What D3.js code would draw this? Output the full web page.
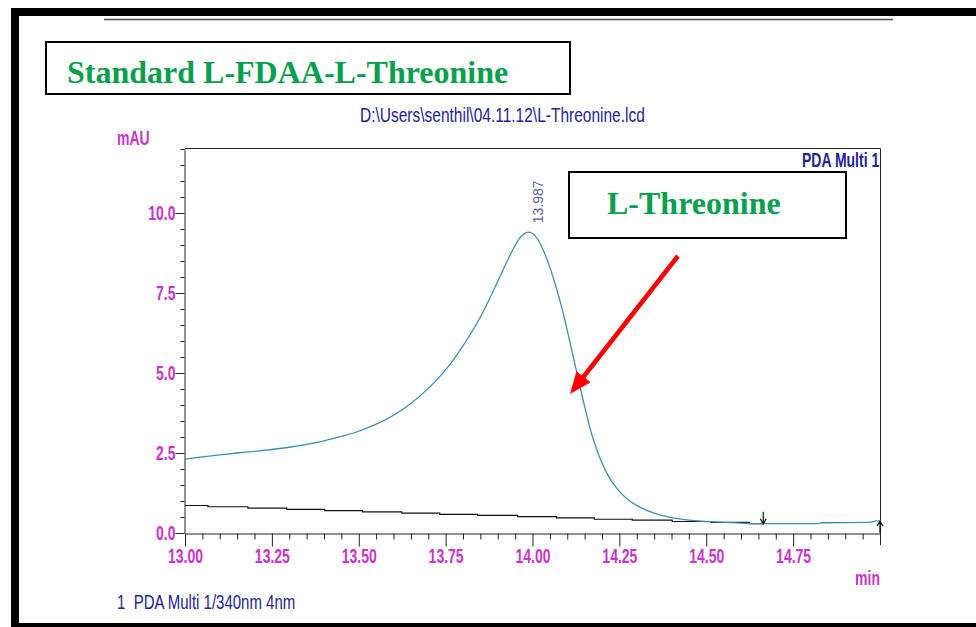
<!DOCTYPE html>
<html>
<head>
<meta charset="utf-8">
<script src="https://cdn.jsdelivr.net/npm/d3@7"></script>
<style>
  html, body { margin: 0; padding: 0; background: #ffffff; }
  svg { display: block; }
  text { white-space: pre; }
</style>
</head>
<body>
<svg id="chart" width="976" height="627"></svg>
<script>
// Chromatogram: PDA Multi 1 / 340 nm, retention window 13.0 - 15.0 min
const retentionTimes = [
  13.00, 13.05, 13.10, 13.15, 13.20, 13.25, 13.30, 13.35, 13.40, 13.45,
  13.50, 13.55, 13.60, 13.65, 13.70, 13.75, 13.80, 13.85, 13.88, 13.91,
  13.94, 13.96, 13.975, 13.987, 14.00, 14.015, 14.03, 14.05, 14.07, 14.09,
  14.11, 14.13, 14.15, 14.17, 14.19, 14.21, 14.23, 14.25, 14.28, 14.31,
  14.35, 14.40, 14.45, 14.50, 14.55, 14.60, 14.67, 14.75, 14.82, 14.83,
  14.97, 14.99, 15.00
];
const absorbance = [
  2.31, 2.38, 2.44, 2.50, 2.55, 2.61, 2.68, 2.77, 2.88, 3.02,
  3.18, 3.40, 3.68, 4.05, 4.52, 5.10, 5.85, 6.75, 7.40, 8.10,
  8.78, 9.17, 9.34, 9.40, 9.36, 9.18, 8.86, 8.30, 7.60, 6.80,
  5.85, 4.90, 3.95, 3.10, 2.45, 1.95, 1.58, 1.30, 1.00, 0.80,
  0.62, 0.48, 0.40, 0.36, 0.33, 0.31, 0.29, 0.29, 0.29, 0.32,
  0.33, 0.38, 0.37
];

// Integration baseline (drawn as the data system's stepped line)
const baselineTimes  = [13.000, 13.066, 13.181, 13.293, 13.402, 13.511, 13.624, 13.733, 13.842,
                        13.957, 14.069, 14.178, 14.287, 14.402, 14.514, 14.624, 14.664];
const baselineValues = [0.86, 0.82, 0.78, 0.74, 0.70, 0.66, 0.62, 0.58, 0.55,
                        0.51, 0.47, 0.43, 0.40, 0.36, 0.33, 0.29, 0.29];

// Peak annotation
const peakTime = 13.987;
const peakHeight = 9.40;
const peakLabel = "13.987";

// Integration start / end markers
const peakStart = { t: 14.664, v: 0.29 };
const peakEnd   = { t: 15.00,  v: 0.37 };

// Axis ticks
const xMajorTicks = [13.00, 13.25, 13.50, 13.75, 14.00, 14.25, 14.50, 14.75];
const xTickLabels = ["13.00", "13.25", "13.50", "13.75", "14.00", "14.25", "14.50", "14.75"];
const yMajorTicks = [0.0, 2.5, 5.0, 7.5, 10.0];
const yTickLabels = ["0.0", "2.5", "5.0", "7.5", "10.0"];

// Texts
const titleText = "Standard L-FDAA-L-Threonine";
const calloutText = "L-Threonine";
const fileText = "D:\\Users\\senthil\\04.11.12\\L-Threonine.lcd";
const channelText = "PDA Multi 1";
const legendText = "1  PDA Multi 1/340nm 4nm";
const yUnit = "mAU";
const xUnit = "min";

const MAGENTA = "#cc33cc";
const NAVY = "#23239a";
const GREEN = "#07a04c";
const TRACE = "#3a90b4";
const SANS = "'Liberation Sans', Arial, sans-serif";
const SERIF = "'Liberation Serif', 'Times New Roman', serif";

const svg = d3.select("#chart");
svg.append("rect").attr("width", 976).attr("height", 627).attr("fill", "#fff");

// Slide frame
svg.append("rect").attr("x", 11).attr("y", 8).attr("width", 965).attr("height", 8).attr("fill", "#000");
svg.append("rect").attr("x", 11).attr("y", 8).attr("width", 8).attr("height", 619).attr("fill", "#000");
svg.append("rect").attr("x", 11).attr("y", 623).attr("width", 965).attr("height", 4).attr("fill", "#000");
svg.append("line").attr("x1", 104).attr("x2", 893).attr("y1", 19.5).attr("y2", 19.5)
  .attr("stroke", "#4a4a4a").attr("stroke-width", 1.6);

// Plot geometry
const plot = { left: 185, right: 880, top: 149, bottom: 533 };
const x = d3.scaleLinear().domain([13.0, 15.0]).range([plot.left, plot.right]);
const y = d3.scaleLinear().domain([0, 12]).range([plot.bottom, plot.top]);

function label(parent, txt, px, py, opts) {
  const o = Object.assign({ size: 14, weight: "normal", color: "#000", anchor: "start", sx: 1, sy: 1.4, family: SANS }, opts || {});
  return parent.append("text")
    .attr("transform", `translate(${px},${py}) scale(${o.sx},${o.sy})`)
    .attr("font-family", o.family).attr("font-size", o.size).attr("font-weight", o.weight)
    .attr("fill", o.color).attr("text-anchor", o.anchor)
    .text(txt);
}

// Frame: top and right edges
svg.append("path")
  .attr("d", `M${plot.left},${plot.top - 0.5}H${plot.right + 0.5}V${plot.bottom + 12}`)
  .attr("fill", "none").attr("stroke", "#222").attr("stroke-width", 1);

// X axis
const xMinor = d3.range(13.05, 14.999, 0.05).filter(t => xMajorTicks.every(m => Math.abs(m - t) > 1e-6));
svg.append("g").attr("transform", `translate(0,${plot.bottom + 0.5})`)
  .call(d3.axisBottom(x).tickValues(xMinor).tickSize(6).tickSizeOuter(0).tickFormat(""))
  .call(g => g.select(".domain").remove())
  .call(g => g.selectAll("line").attr("stroke", "#222"));
const xAxis = svg.append("g").attr("transform", `translate(0,${plot.bottom + 0.5})`)
  .call(d3.axisBottom(x).tickValues(xMajorTicks).tickSize(13).tickSizeOuter(0)
    .tickFormat((d, i) => xTickLabels[i]));
xAxis.select(".domain").attr("stroke", "#222");
xAxis.selectAll("line").attr("stroke", "#222");
xAxis.selectAll("text")
  .attr("y", null).attr("dy", null)
  .attr("transform", "translate(0,29) scale(1,1.4)")
  .attr("font-family", SANS).attr("font-size", 14).attr("font-weight", "bold")
  .attr("fill", MAGENTA);

// Y axis
const yMinor = d3.range(0.5, 12.01, 0.5).filter(v => yMajorTicks.every(m => Math.abs(m - v) > 1e-6));
svg.append("g").attr("transform", `translate(${plot.left - 0.5},0)`)
  .call(d3.axisLeft(y).tickValues(yMinor).tickSize(4).tickSizeOuter(0).tickFormat(""))
  .call(g => g.select(".domain").remove())
  .call(g => g.selectAll("line").attr("stroke", "#222"));
const yAxis = svg.append("g").attr("transform", `translate(${plot.left - 0.5},0)`)
  .call(d3.axisLeft(y).tickValues(yMajorTicks).tickSize(9).tickSizeOuter(0)
    .tickFormat((d, i) => yTickLabels[i]));
yAxis.select(".domain").attr("stroke", "#222");
yAxis.selectAll("line").attr("stroke", "#222");
yAxis.selectAll("text")
  .attr("x", null).attr("dy", null)
  .attr("transform", "translate(-9,6.5) scale(1,1.4)")
  .attr("font-family", SANS).attr("font-size", 14).attr("font-weight", "bold")
  .attr("fill", MAGENTA);

// Traces
svg.append("clipPath").attr("id", "plotClip").append("rect")
  .attr("x", plot.left).attr("y", plot.top).attr("width", plot.right - plot.left + 1).attr("height", plot.bottom - plot.top);
const layer = svg.append("g").attr("clip-path", "url(#plotClip)");

const baseline = d3.line().x(i => x(baselineTimes[i])).y(i => y(baselineValues[i])).curve(d3.curveStepAfter);
layer.append("path").attr("d", baseline(d3.range(baselineTimes.length)))
  .attr("fill", "none").attr("stroke", "#111").attr("stroke-width", 1.2);

const trace = d3.line().x(i => x(retentionTimes[i])).y(i => y(absorbance[i])).curve(d3.curveMonotoneX);
layer.append("path").attr("d", trace(d3.range(retentionTimes.length)))
  .attr("fill", "none").attr("stroke", TRACE).attr("stroke-width", 1.3);

// Integration markers
function marker(t, v, dir) {
  const px = x(t), py = y(v);
  const g = svg.append("g").attr("stroke", "#111").attr("stroke-width", 1.2).attr("fill", "none");
  if (dir === "down") {
    g.append("path").attr("d", `M${px},${py - 12}V${py}M${px - 3},${py - 5}L${px},${py}L${px + 3},${py - 5}`);
  } else {
    g.append("path").attr("d", `M${px},${plot.bottom}V${py}M${px - 3},${py + 5}L${px},${py}L${px + 3},${py + 5}`);
  }
}
marker(peakStart.t, peakStart.v, "down");
marker(peakEnd.t, peakEnd.v, "up");

// Peak retention time label
svg.append("text")
  .attr("transform", `translate(${x(peakTime) + 15},${y(peakHeight) - 9}) rotate(-90)`)
  .attr("font-family", SANS).attr("font-size", 14).attr("fill", "#5864a0")
  .text(peakLabel);

// Header texts
label(svg, fileText, 360, 122, { size: 15.5, sy: 1.26, color: NAVY });
label(svg, yUnit, 117, 145, { size: 14, weight: "bold", color: MAGENTA });
label(svg, channelText, 802, 167, { size: 14, weight: "bold", color: NAVY });
label(svg, xUnit, 880, 585, { size: 14, weight: "bold", color: MAGENTA, anchor: "end" });
label(svg, legendText, 117, 609, { size: 15, sy: 1.3, color: NAVY });

// Title box
svg.append("rect").attr("x", 46).attr("y", 42).attr("width", 524).attr("height", 52)
  .attr("fill", "#fff").attr("stroke", "#000").attr("stroke-width", 2);
svg.append("text").attr("x", 67).attr("y", 83)
  .attr("font-family", SERIF).attr("font-weight", "bold").attr("font-size", 32)
  .attr("fill", GREEN).text(titleText);

// Callout box
svg.append("rect").attr("x", 569).attr("y", 172).attr("width", 277).attr("height", 66)
  .attr("fill", "#fff").attr("stroke", "#000").attr("stroke-width", 2);
svg.append("text").attr("x", 607).attr("y", 214)
  .attr("font-family", SERIF).attr("font-weight", "bold").attr("font-size", 32)
  .attr("fill", GREEN).text(calloutText);

// Red arrow pointing at the peak's trailing edge
const arrowFrom = [678, 256], arrowTip = [570, 394];
const dx = arrowTip[0] - arrowFrom[0], dy = arrowTip[1] - arrowFrom[1];
const len = Math.hypot(dx, dy), ux = dx / len, uy = dy / len;
const headLen = 22, headHalf = 9;
const bx = arrowTip[0] - ux * headLen, by = arrowTip[1] - uy * headLen;
svg.append("line").attr("x1", arrowFrom[0]).attr("y1", arrowFrom[1]).attr("x2", bx + ux * 2).attr("y2", by + uy * 2)
  .attr("stroke", "#ff0000").attr("stroke-width", 4.5);
svg.append("path")
  .attr("d", `M${arrowTip[0]},${arrowTip[1]}L${bx - uy * headHalf},${by + ux * headHalf}L${bx + uy * headHalf},${by - ux * headHalf}Z`)
  .attr("fill", "#ff0000");
</script>
</body>
</html>
